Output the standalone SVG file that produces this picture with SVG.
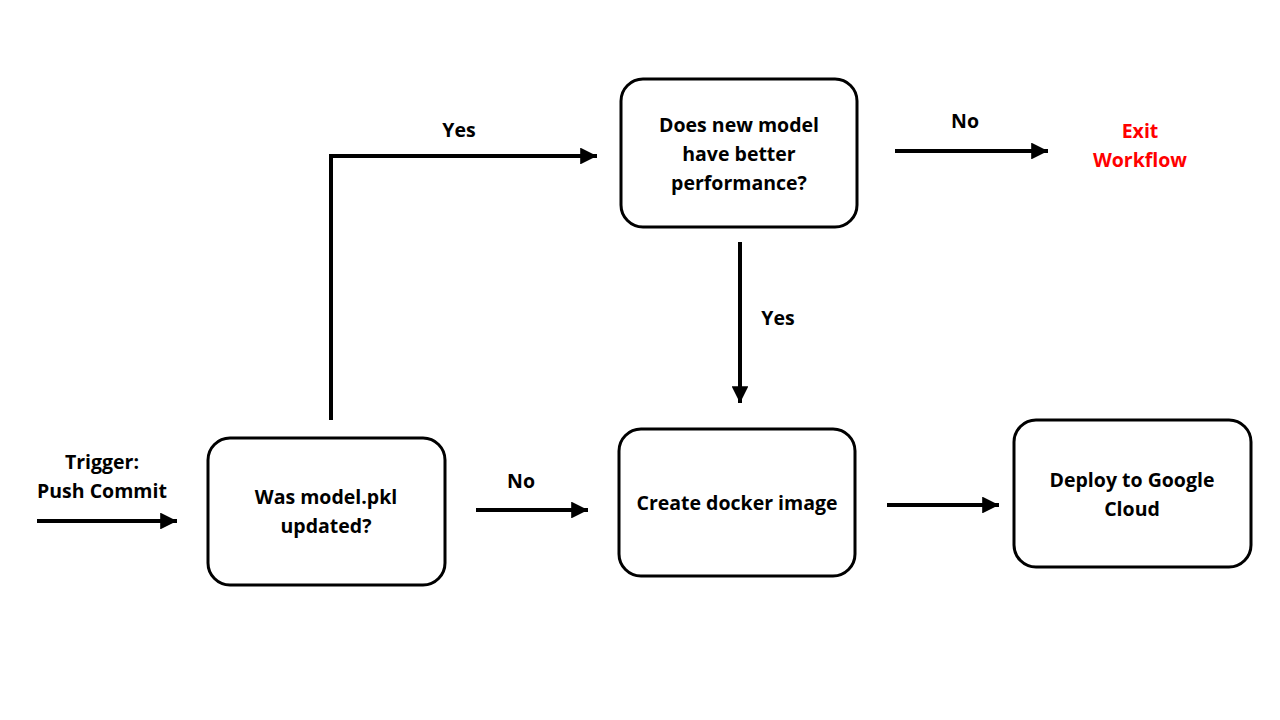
<svg xmlns="http://www.w3.org/2000/svg" width="1280" height="720" viewBox="0 0 1280 720">
<style>
.box{fill:#fff;stroke:#000;stroke-width:3}
.t{font-family:"Open Sans","Noto Sans","Liberation Sans",sans-serif;font-weight:bold;font-size:19.5px;fill:#000;text-anchor:middle}
.red{fill:#ff0000}
.c{fill:none;stroke:#000;stroke-width:4}
</style>
<defs>
<marker id="ah" viewBox="0 0 10 10" refX="10" refY="5" markerWidth="4.2" markerHeight="4.2" markerUnits="strokeWidth" orient="auto">
<path d="M0,0 L10,5 L0,10 Z" fill="#000"/>
</marker>
</defs>
<rect width="1280" height="720" fill="#fff"/>
<g id="connectors">
<path class="c" d="M37,521 H177" marker-end="url(#ah)"/>
<path class="c" d="M331,420 V156 H597" marker-end="url(#ah)"/>
<path class="c" d="M895,151 H1048" marker-end="url(#ah)"/>
<path class="c" d="M740,242 V403" marker-end="url(#ah)"/>
<path class="c" d="M476,510 H588" marker-end="url(#ah)"/>
<path class="c" d="M887,505 H999" marker-end="url(#ah)"/>
<text class="t" x="459" y="137">Yes</text>
<text class="t" x="965" y="128">No</text>
<text class="t" x="778" y="325">Yes</text>
<text class="t" x="521" y="488">No</text>
<text class="t" x="102" y="469">Trigger:</text>
<text class="t" x="102" y="498">Push Commit</text>
</g>
<g id="n1">
<rect class="box" x="208" y="438" width="237" height="147" rx="22"/>
<text class="t" x="326" y="504">Was model.pkl</text>
<text class="t" x="326" y="533">updated?</text>
</g>
<g id="n2">
<rect class="box" x="621" y="79" width="236" height="148" rx="22"/>
<text class="t" x="739" y="132">Does new model</text>
<text class="t" x="739" y="161">have better</text>
<text class="t" x="739" y="190">performance?</text>
</g>
<g id="n3">
<rect class="box" x="619" y="429" width="236" height="147" rx="22"/>
<text class="t" x="737" y="510">Create docker image</text>
</g>
<g id="n4">
<rect class="box" x="1014" y="420" width="237" height="147" rx="22"/>
<text class="t" x="1132" y="487">Deploy to Google</text>
<text class="t" x="1132" y="516">Cloud</text>
</g>
<g id="exit">
<text class="t red" x="1140" y="138">Exit</text>
<text class="t red" x="1140" y="167">Workflow</text>
</g>
</svg>
